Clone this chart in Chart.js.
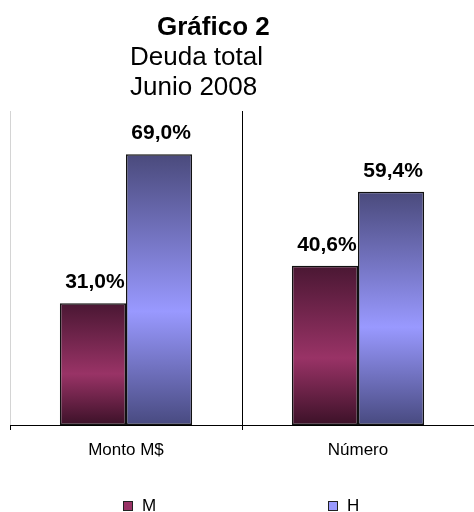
<!DOCTYPE html>
<html>
<head>
<meta charset="utf-8">
<script src="https://cdn.jsdelivr.net/npm/chart.js@4.4.1/dist/chart.umd.min.js"></script>
<style>
  html, body { margin: 0; padding: 0; background: #fff; overflow: hidden; }
</style>
</head>
<body>
<canvas id="myChart" width="474" height="512"></canvas>
<script>
const FONT = "'Liberation Sans', Arial, sans-serif";

const categories = ["Monto M$", "Número"];
const seriesNames = ["M", "H"];
const mujeres = [31.0, 40.6];
const hombres = [69.0, 59.4];
const titleLines = ["Gráfico 2", "Deuda total", "Junio 2008"];

// top / middle / bottom colours of the bar shading
const colors = {
  M: { top: "#4a1733", mid: "#993366", bottom: "#3c1128", flat: "#993366" },
  H: { top: "#4a4a7c", mid: "#9999ff", bottom: "#484a80", flat: "#9999ff" },
};

function barFill(c) {
  return (ctx) => {
    const chart = ctx.chart;
    if (!chart.chartArea || ctx.type !== "data") return c.flat;
    const y = chart.scales.y;
    const top = y.getPixelForValue(ctx.raw);
    const base = y.getPixelForValue(0);
    const g = chart.ctx.createLinearGradient(0, top, 0, base);
    g.addColorStop(0, c.top);
    g.addColorStop(0.58, c.mid);
    g.addColorStop(1, c.bottom);
    return g;
  };
}

function fmt(v) {
  return v.toFixed(1).replace(".", ",") + "%";
}

// title lines, value labels and legend drawn on the canvas
const extras = {
  id: "extras",
  afterDraw(chart) {
    const ctx = chart.ctx;
    ctx.save();
    ctx.fillStyle = "#000";
    ctx.textBaseline = "alphabetic";

    ctx.textAlign = "left";
    ctx.font = "bold 26px " + FONT;
    ctx.fillText(titleLines[0], 157, 35);
    ctx.font = "26px " + FONT;
    ctx.fillText(titleLines[1], 130, 65);
    ctx.fillText(titleLines[2], 130, 95);

    ctx.textAlign = "center";
    ctx.font = "bold 21px " + FONT;
    chart.data.datasets.forEach((ds, i) => {
      chart.getDatasetMeta(i).data.forEach((bar, j) => {
        ctx.fillText(fmt(ds.data[j]), bar.x + 2, bar.y - 15);
      });
    });

    // legend
    const legendX = [123, 328];
    ctx.textAlign = "left";
    ctx.font = "17px " + FONT;
    chart.data.datasets.forEach((ds, i) => {
      const x = legendX[i];
      ctx.fillStyle = ds.legendColor;
      ctx.fillRect(x, 501, 10, 10);
      ctx.strokeStyle = "#222";
      ctx.lineWidth = 1;
      ctx.strokeRect(x + 0.5, 501.5, 9, 9);
      ctx.fillStyle = "#000";
      ctx.fillText(ds.label, x + 19, 511);
    });
    ctx.restore();
  },
};

const data = {
  labels: categories,
  datasets: [
    {
      label: seriesNames[0],
      data: mujeres,
      backgroundColor: barFill(colors.M),
      legendColor: colors.M.flat,
      borderColor: "#111",
      borderWidth: 1.5,
      borderSkipped: false,
      categoryPercentage: 0.57,
      barPercentage: 1.0,
    },
    {
      label: seriesNames[1],
      data: hombres,
      backgroundColor: barFill(colors.H),
      legendColor: colors.H.flat,
      borderColor: "#111",
      borderWidth: 1.5,
      borderSkipped: false,
      categoryPercentage: 0.57,
      barPercentage: 1.0,
    },
  ],
};

const options = {
  responsive: false,
  animation: false,
  layout: { padding: { top: 111, left: 10, right: 0, bottom: 0 } },
  plugins: {
    legend: { display: false },
    title: { display: false },
    tooltip: { enabled: false },
  },
  scales: {
    x: {
      offset: true,
      border: { display: true, color: "#000", width: 1 },
      grid: {
        offset: true,
        drawOnChartArea: true,
        tickLength: 5,
        color: (c) => (c.index === 0 ? "#d4d4d4" : c.index === 1 ? "#000" : "rgba(0,0,0,0)"),
        tickColor: (c) => (c.index === 2 ? "rgba(0,0,0,0)" : "#000"),
      },
      ticks: { color: "#000", font: { family: FONT, size: 17 }, padding: 10 },
      afterFit: (s) => { s.height = 87; },
    },
    y: {
      display: false,
      min: 0,
      max: 80,
    },
  },
};

new Chart(document.getElementById("myChart"), {
  type: "bar",
  data: data,
  options: options,
  plugins: [extras],
});
</script>
</body>
</html>
